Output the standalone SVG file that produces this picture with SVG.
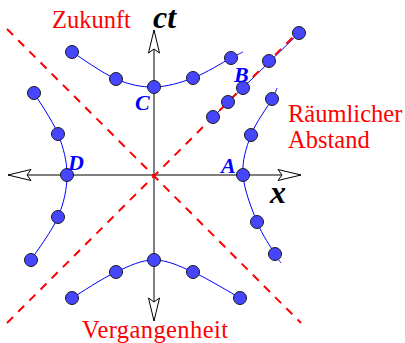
<svg xmlns="http://www.w3.org/2000/svg" width="405" height="343" viewBox="0 0 405 343">
<style>
.axis{stroke:#000;stroke-width:1;fill:none}
.lc{stroke:#ff0000;stroke-width:2;stroke-dasharray:8.5 7.3;fill:none}
.hyp{stroke:#0000ff;stroke-width:1;fill:none}
.dot{fill:#4646ff;stroke:#1a1a1a;stroke-width:1}
.red{font-family:"Liberation Serif",serif;font-size:24.5px;fill:#ff0000}
.ev{font-family:"Liberation Serif",serif;font-size:22px;font-weight:bold;font-style:italic;fill:#0000ff}
.ax{font-family:"Liberation Serif",serif;font-size:32px;font-weight:bold;font-style:italic;fill:#000}
</style>
<defs>
<marker id="arr" markerUnits="userSpaceOnUse" markerWidth="30" markerHeight="14" viewBox="-24 -7 26 14" refX="0" refY="0" orient="auto-start-reverse" overflow="visible">
<path d="M0,0 L-23,-5.5 L-19,0 L-23,5.5 Z" fill="#fff" stroke="#000" stroke-width="1"/>
</marker>
</defs>
<g id="connectors">
<line class="axis" x1="8" y1="175" x2="301" y2="175" marker-start="url(#arr)" marker-end="url(#arr)"/>
<line class="axis" x1="154" y1="30" x2="154" y2="321" marker-start="url(#arr)" marker-end="url(#arr)"/>
<path class="hyp" d="M72,52 C79.3,56.5 102.3,73.2 116,79 C129.7,84.8 141.2,87.2 154,87 C166.8,86.8 180.2,82.8 193,78 C205.8,73.2 222.7,62.3 231,58 C239.3,53.7 241,53 243,52"/>
<path class="hyp" d="M72,298 C79.3,293.7 102.3,278.3 116,272 C129.7,265.7 141.2,260 154,260 C166.8,260 178.7,265.7 193,272 C207.3,278.3 232.2,293.7 240,298"/>
<path class="hyp" d="M34,93 C38,99.8 52.5,120.3 58,134 C63.5,147.7 67,161.2 67,175 C67,188.8 64,202.8 58,217 C52,231.2 35.5,252.8 31,260"/>
<path class="hyp" d="M277,88 C276.2,89.8 276.3,91.2 272,99 C267.7,106.8 255.8,122.3 251,135 C246.2,147.7 242,160.5 243,175 C244,189.5 251.7,208.8 257,222 C262.3,235.2 271,247.2 275,254 C279,260.8 280,261.5 281,263"/>
<line class="hyp" x1="213" y1="117" x2="299" y2="33"/>
<line class="lc" x1="7" y1="29" x2="301" y2="323"/>
<line class="lc" x1="7" y1="323" x2="301" y2="29"/>
</g>
<g id="future">
<circle class="dot" cx="72" cy="52" r="6.5"/>
<circle class="dot" cx="116" cy="79" r="6.5"/>
<circle class="dot" cx="154" cy="87" r="6.5"/>
<circle class="dot" cx="193" cy="78" r="6.5"/>
<circle class="dot" cx="231" cy="58" r="6.5"/>
</g>
<g id="past">
<circle class="dot" cx="72" cy="298" r="6.5"/>
<circle class="dot" cx="116" cy="272" r="6.5"/>
<circle class="dot" cx="154" cy="260" r="6.5"/>
<circle class="dot" cx="193" cy="272" r="6.5"/>
<circle class="dot" cx="240" cy="298" r="6.5"/>
</g>
<g id="left">
<circle class="dot" cx="34" cy="93" r="6.5"/>
<circle class="dot" cx="58" cy="134" r="6.5"/>
<circle class="dot" cx="67" cy="175" r="6.5"/>
<circle class="dot" cx="58" cy="217" r="6.5"/>
<circle class="dot" cx="31" cy="260" r="6.5"/>
</g>
<g id="right">
<circle class="dot" cx="272" cy="99" r="6.5"/>
<circle class="dot" cx="251" cy="135" r="6.5"/>
<circle class="dot" cx="243" cy="175" r="6.5"/>
<circle class="dot" cx="257" cy="222" r="6.5"/>
<circle class="dot" cx="275" cy="254" r="6.5"/>
</g>
<g id="lightlike">
<circle class="dot" cx="213" cy="117" r="6.5"/>
<circle class="dot" cx="228" cy="102" r="6.5"/>
<circle class="dot" cx="243" cy="88" r="6.5"/>
<circle class="dot" cx="269" cy="61" r="6.5"/>
<circle class="dot" cx="299" cy="33" r="6.5"/>
</g>
<g id="labels">
<text class="red" x="52" y="28">Zukunft</text>
<text class="red" x="82" y="338" textLength="146">Vergangenheit</text>
<text class="red" x="288" y="122">Räumlicher</text>
<text class="red" x="288" y="148">Abstand</text>
<text class="ax" x="153" y="28">ct</text>
<text class="ax" x="270" y="203">x</text>
<text class="ev" x="135" y="110">C</text>
<text class="ev" x="234" y="82">B</text>
<text class="ev" x="221" y="173">A</text>
<text class="ev" x="68" y="170">D</text>
</g>
</svg>
